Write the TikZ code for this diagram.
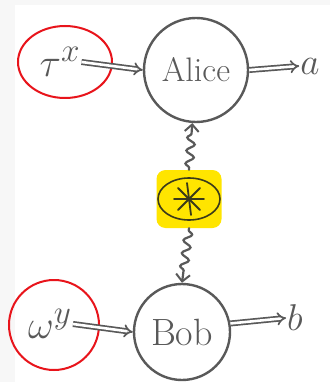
\documentclass[tikz,border=0pt]{standalone}
\usetikzlibrary{arrows.meta,decorations.pathmorphing,shapes.geometric}
\definecolor{ink}{HTML}{595959}
\definecolor{pen}{HTML}{E8141B}
\definecolor{hilite}{HTML}{FFE500}
\definecolor{olive}{HTML}{3A3A1A}
\definecolor{paper}{HTML}{F7F7F7}
% scaled formulas, since the math fonts stop at \Huge
\newcommand{\grown}[2]{\scalebox{#1}{\Huge #2}}
\tikzset{
  party/.style={circle, draw=ink, line width=2.4pt, minimum size=#1, inner sep=0pt, text=ink},
  var/.style={inner sep=1pt, text=ink},
  ring/.style={ellipse, draw=pen, line width=2pt, minimum width=#1, inner sep=0pt},
  outlabel/.style={inner sep=1pt, text=ink},
  feed/.style={draw=ink, line width=1.7pt, double=white, double distance=2.6pt,
    -{Implies[length=9pt]}},
  quantum/.style={draw=ink, line width=2.2pt, line cap=round,
    decorate, decoration={snake, amplitude=4pt, segment length=13pt, pre length=2pt, post length=9pt},
    -{Straight Barb[length=7pt, width=14pt, line width=2pt]}},
  spoke/.style={draw=olive, line width=1.8pt, line cap=round}
}
\begin{document}
\begin{tikzpicture}[x=1pt, y=-1pt]
  % page and the pale strip along the top and left edges
  \fill[paper] (0,0) rectangle (330,382);
  \fill[white] (15,5) rectangle (330,382);
  \useasboundingbox (0,0) rectangle (330,382);

  % the two parties
  \node[party=104pt, font=\fontsize{34}{34}\selectfont] (alice) at (196,70) {Alice};
  \node[party=96pt, font=\fontsize{38}{38}\selectfont] (bob) at (182,332) {Bob};

  % inputs, circled in red
  \node[var] (tau) at (60,62) {\grown{1.6}{$\tau^{x}$}};
  \node[ring=94pt, minimum height=72pt] (taur) at (65,62) {};
  \node[var] (omega) at (50,324) {\grown{1.6}{$\omega^{y}$}};
  \node[ring=90pt, minimum height=90pt] (omegar) at (54,325) {};

  % outputs
  \node[outlabel] (a) at (310,66) {\grown{1.5}{$a$}};
  \node[outlabel] (b) at (295,318) {\grown{1.5}{$b$}};

  % shared resource, highlighted
  \node[fill=hilite, rounded corners=9pt, minimum width=65pt, minimum height=58pt] (src) at (189,199) {};
  \node[ellipse, draw=olive, line width=1.6pt, minimum width=62pt, minimum height=42pt, inner sep=0pt] (star) at (189,199) {};
  \draw[spoke] ([shift={(-15,0)}]star.center) -- ([shift={(15,0)}]star.center);
  \draw[spoke] ([shift={(-2,-16)}]star.center) -- ([shift={(2,16)}]star.center);
  \draw[spoke] ([shift={(-11,-11)}]star.center) -- ([shift={(11,11)}]star.center);
  \draw[spoke] ([shift={(-11,11)}]star.center) -- ([shift={(11,-11)}]star.center);

  % classical wires
  \draw[feed] (tau.east) -- (alice.west);
  \draw[feed] (alice.east) -- (a.west);
  \draw[feed] (omega.east) -- (bob.west);
  \draw[feed] (bob.10) -- (b.west);

  % quantum wires
  \draw[quantum] (src.north) -- (alice.266);
  \draw[quantum] (src.south) -- (bob.north);
\end{tikzpicture}
\end{document}
